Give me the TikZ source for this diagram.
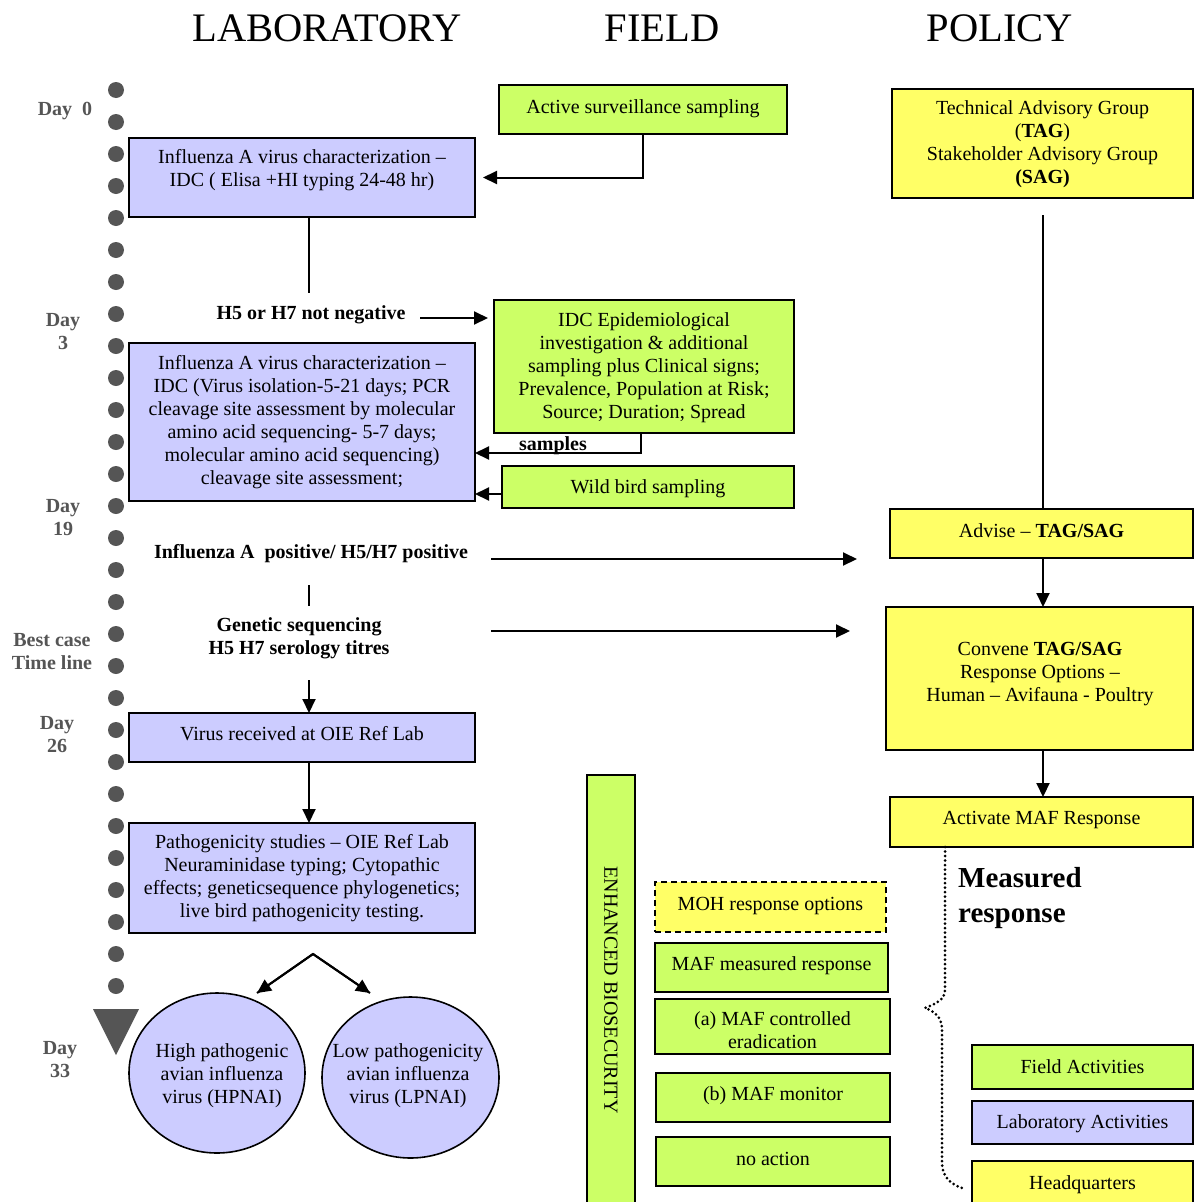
\documentclass[tikz,border=0pt]{standalone}
\usepackage{fontspec}
\setmainfont{Liberation Serif}
\usetikzlibrary{arrows.meta,shapes.geometric}
\newcommand\bodyfs{\fontsize{20}{23}\selectfont}
\newcommand\headfs{\fontsize{40.5}{46}\selectfont}
\newcommand\bigbfs{\fontsize{29}{35}\selectfont}
\definecolor{labc}{HTML}{CCCCFF}
\definecolor{fldc}{HTML}{CCFF66}
\definecolor{polc}{HTML}{FFFF66}
\definecolor{dotc}{HTML}{555555}
\tikzset{
  box/.style={draw=black, line width=1.6pt, inner sep=0pt, outer sep=0pt, align=center, font=\bodyfs},
  labbox/.style={box, fill=labc},
  fldbox/.style={box, fill=fldc},
  polbox/.style={box, fill=polc},
  ellbox/.style={ellipse, draw=black, line width=1.6pt, fill=labc, inner sep=0pt, outer sep=0pt},
  txt/.style={align=center, font=\bodyfs, inner sep=0pt},
  btxt/.style={align=center, font=\bodyfs\bfseries, inner sep=0pt},
  daylab/.style={align=center, font=\bodyfs\bfseries, text=dotc, inner sep=0pt},
  head/.style={font=\headfs, inner sep=0pt},
  arr/.style={line width=2pt, -{Triangle[length=14pt,width=13pt]}},
  conn/.style={line width=2pt},
  tdot/.style={circle, fill=dotc, minimum size=16pt, inner sep=0pt},
}
\begin{document}
\begin{tikzpicture}[x=1pt,y=-1pt]
\useasboundingbox (0,0) rectangle (1194,1202);
\fill[white] (0,0) rectangle (1194,1202);

% headings
\node[head] (hlab) at (327,28) {LABORATORY};
\node[head] (hfld) at (662,28) {FIELD};
\node[head] (hpol) at (1000,28) {POLICY};

% timeline
\foreach \i in {0,...,28} \node[tdot] (d\i) at (116,90+32*\i) {};
\fill[dotc] (93,1009) -- (139,1009) -- (116,1055) -- cycle;

% day labels
\node[daylab] (day0) at (65,111) {Day\ \ 0};
\node[daylab] (day3) at (63,332) {Day\\3};
\node[daylab] (day19) at (63,517.5) {Day\\19};
\node[daylab] (best) at (52,651.5) {Best case\\Time line};
\node[daylab] (day26) at (57,734.5) {Day\\26};
\node[daylab] (day33) at (60,1060) {Day\\33};

% laboratory
\node[labbox, minimum width=346, minimum height=79] (L1) at (302,177.5) {};
\node[txt] (L1t) at (302,170) {Influenza A virus characterization --\\IDC ( Elisa +HI typing 24-48 hr)};
\node[labbox, minimum width=346, minimum height=158] (L2) at (302,422) {Influenza A virus characterization --\\IDC (Virus isolation-5-21 days; PCR\\cleavage site assessment by molecular\\amino acid sequencing- 5-7 days;\\molecular amino acid sequencing)\\cleavage site assessment;};
\node[labbox, minimum width=346, minimum height=49] (L3) at (302,737.5) {};
\node[txt] (L3t) at (302,734) {Virus received at OIE Ref Lab};
\node[labbox, minimum width=346, minimum height=110] (L4) at (302,878) {Pathogenicity studies -- OIE Ref Lab\\Neuraminidase typing; Cytopathic\\effects; geneticsequence phylogenetics;\\live bird pathogenicity testing.};
\node[ellbox, minimum width=176, minimum height=160] (HP) at (217,1073) {};
\node[txt] (HPt) at (222,1076) {High pathogenic\\avian influenza\\virus (HPNAI)};
\node[ellbox, minimum width=177, minimum height=161] (LP) at (410.5,1077.5) {};
\node[txt] (LPt) at (408,1076) {Low pathogenicity\\avian influenza\\virus (LPNAI)};

\node[btxt] (h5) at (311,315) {H5 or H7 not negative};
\node[btxt] (infa) at (311,554) {Influenza A\ \ positive/ H5/H7 positive};
\node[btxt] (gen) at (299,638.5) {Genetic sequencing\\H5 H7 serology titres};

% field
\node[fldbox, minimum width=288, minimum height=49] (F1) at (643,109.5) {};
\node[txt] (F1t) at (643,109) {Active surveillance sampling};
\node[fldbox, minimum width=300, minimum height=133] (F2) at (644,366.5) {};
\node[txt] (F2t) at (644,368) {IDC Epidemiological\\investigation \& additional\\sampling plus Clinical signs;\\Prevalence, Population at Risk;\\Source; Duration; Spread};
\node[fldbox, minimum width=292, minimum height=42] (F3) at (648,487) {};
\node[txt] (F3t) at (648,489) {Wild bird sampling};
\node[btxt] (samp) at (553,446) {samples};

% policy
\node[polbox, minimum width=301, minimum height=109] (P1) at (1042.5,143.5) {};
\node[txt] (P1t) at (1042.5,144.5) {Technical Advisory Group\\(\textbf{TAG})\\Stakeholder Advisory Group\\\textbf{(SAG)}};
\node[polbox, minimum width=303, minimum height=49] (P2) at (1041.5,533.5) {};
\node[txt] (P2t) at (1041.5,531) {Advise -- \textbf{TAG/SAG}};
\node[polbox, minimum width=307, minimum height=143] (P3) at (1039.5,678.5) {};
\node[txt] (P3t) at (1040,674) {Convene \textbf{TAG/SAG}\\Response Options --\\Human -- Avifauna - Poultry};
\node[polbox, minimum width=303, minimum height=50] (P4) at (1041.5,822) {};
\node[txt] (P4t) at (1041.5,820) {Activate MAF Response};

% enhanced biosecurity and responses
\node[fldbox, minimum width=48, minimum height=435] (EB) at (611,992.5) {};
\node[txt, rotate=-90] (EBt) at (611,990) {ENHANCED BIOSECURITY};
\node[polbox, dash pattern=on 6pt off 4pt, minimum width=231, minimum height=50] (MOH) at (770.5,907) {};
\node[txt] (MOHt) at (770.5,905.5) {MOH response options};
\node[fldbox, minimum width=233, minimum height=49] (MAFm) at (771.5,967.5) {};
\node[txt] (MAFmt) at (771.5,966) {MAF measured response};
\node[fldbox, minimum width=235, minimum height=55] (MAFa) at (772.5,1026.5) {};
\node[txt] (MAFat) at (772.5,1030.5) {(a) MAF controlled\\eradication};
\node[fldbox, minimum width=234, minimum height=49] (MAFb) at (773,1097.5) {};
\node[txt] (MAFbt) at (773,1096) {(b) MAF monitor};
\node[fldbox, minimum width=234, minimum height=49] (noact) at (773,1161.5) {};
\node[txt] (noactt) at (773,1159) {no action};

\node[align=left, anchor=west, font=\bigbfs\bfseries, inner sep=0pt] (mr) at (958,898) {Measured\\response};

% legend
\node[fldbox, minimum width=221, minimum height=44] (legF) at (1082.5,1067) {};
\node[txt] (legFt) at (1082.5,1067) {Field Activities};
\node[labbox, minimum width=221, minimum height=43] (legL) at (1082.5,1122.5) {};
\node[txt] (legLt) at (1082.5,1124) {Laboratory Activities};
\node[polbox, minimum width=221, minimum height=52] (legH) at (1082.5,1187) {};
\node[txt] (legHt) at (1082.5,1185) {Headquarters};

% connectors: lab column
\draw[conn] ([xshift=7pt]L1.south) -- ++(0,76);
\coordinate (h5a) at (420,318);
\draw[arr, shorten >=6pt] (h5a) -- (h5a -| F2.west);
\coordinate (iaa) at (491,559);
\draw[arr, shorten >=33pt] (iaa) -- (iaa -| P2.west);
\coordinate (sl1) at (309,585);
\coordinate (sl2) at (309,606);
\draw[conn] (sl1) -- (sl2);
\coordinate (gaa) at (491,631);
\draw[arr, shorten >=36pt] (gaa) -- (gaa -| P3.west);
\coordinate (g2) at (309,680);
\draw[arr] (g2) -- (g2 |- L3.north);
\draw[arr] ([xshift=7pt]L3.south) -- ([xshift=7pt]L4.north);
\coordinate (apex) at (313,954);
\coordinate (tipH) at (257,993);
\coordinate (tipL) at (370,993);
\draw[line width=2pt, line join=miter] (tipH) -- (apex) -- (tipL);
\draw[arr] (apex) -- (tipH);
\draw[arr] (apex) -- (tipL);

% connectors: field
\draw[arr, shorten >=-1pt] (F1.south) |- ([xshift=9pt]L1.east);
\coordinate (sa) at (641,453);
\draw[arr] (F2.south -| sa) -- (sa) -- (sa -| L2.east);
\coordinate (wb) at (502,494);
\draw[arr] (wb) -- (wb -| L2.east);

% connectors: policy
\coordinate (px) at (1043,0);
\draw[conn] ([yshift=-17pt]P1.south -| px) -- (P2.north -| px);
\draw[arr] (P2.south -| px) -- (P3.north -| px);
\draw[arr] (P3.south -| px) -- (P4.north -| px);

% dotted brace
\draw[line width=3pt, dash pattern=on 0pt off 4.5pt, line cap=round]
  ([xshift=-96.5pt]P4.south) -- (945,990) .. controls (945,1000) and (935,1004) .. (925,1008)
  .. controls (936,1012) and (942,1018) .. (942,1030) -- (942,1163)
  .. controls (942,1176) and (950,1184) .. (962,1188);
\end{tikzpicture}
\end{document}
